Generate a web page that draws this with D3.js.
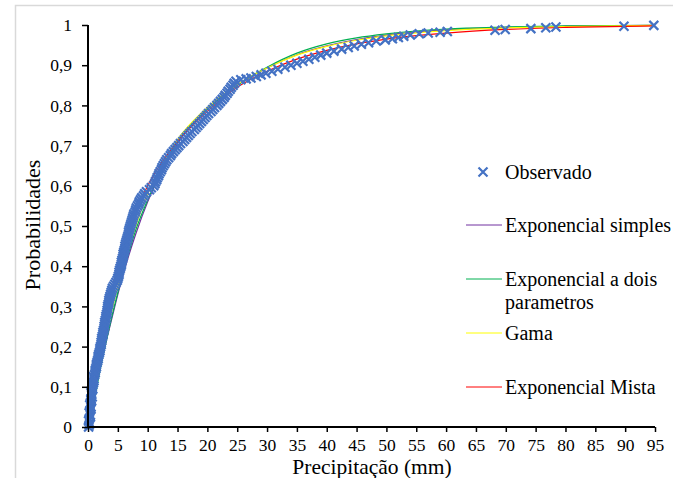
<!DOCTYPE html>
<html>
<head>
<meta charset="utf-8">
<style>
  body { margin: 0; background: #fff; }
</style>
<script src="https://cdn.jsdelivr.net/npm/d3@7"></script>
</head>
<body>
<svg width="673" height="478"></svg>
<script>
// observed precipitation (mm) and empirical probability
var obsPrecip = [0.1, 0.3, 0.2, 0.4, 0.3, 0.5, 0.4, 0.5, 0.6, 0.6,
  0.7, 0.9, 1.0, 1.1, 1.2, 1.4, 1.5, 1.7, 1.8, 2.0,
  2.1, 2.2, 2.3, 2.5, 2.6, 2.7, 2.8, 3.0, 3.1, 3.2,
  3.3, 3.5, 3.6, 3.8, 4.0, 4.3, 4.7, 5.0, 5.2, 5.3,
  5.5, 5.6, 5.8, 5.9, 6.1, 6.2, 6.4, 6.6, 6.8, 6.9,
  7.1, 7.3, 7.5, 7.7, 8.0, 8.3, 8.6, 9.0, 9.5, 10.3,
  11.0, 11.3, 11.6, 11.9, 12.3, 12.6, 13.0, 13.5, 14.0, 14.6,
  15.2, 15.9, 16.5, 17.1, 17.8, 18.4, 19.0, 19.6, 20.2, 20.9,
  21.6, 22.2, 22.8, 23.3, 23.8, 24.3, 24.8,
  25.6, 26.5, 27.3, 28.2, 29.0, 29.8, 30.8, 31.8, 33.0, 34.0,
  35.0, 36.0, 37.0, 38.0, 39.0, 40.0, 41.2, 42.5, 43.6, 44.6,
  45.8, 47.0, 48.3, 49.8, 51.0, 52.0, 52.9, 54.0, 55.5, 57.0,
  59.0, 60.2, 68.2, 69.9, 74.2, 76.7, 78.4, 89.8, 94.8,
  0.2, 0.1, 0.4, 0.2, 0.5, 0.3, 0.6, 0.7, 0.5, 0.8,
  0.8, 1.0, 0.9, 1.2, 1.3, 1.4, 1.6, 1.7, 1.9, 2.0,
  2.2, 2.3, 2.4, 2.5, 2.7, 2.8, 2.9, 3.0, 3.2, 3.3,
  3.4, 3.5, 3.7, 3.9, 4.1, 4.5, 4.9, 5.1, 5.2, 5.4,
  5.6, 5.7, 5.9, 6.0, 6.2, 6.3, 6.5, 6.7, 6.8, 7.0,
  7.2, 7.4, 7.6, 7.9, 8.1, 8.5, 8.8, 9.3, 9.8, 10.6,
  11.2, 11.5, 11.8, 12.1, 12.4, 12.8, 13.2, 13.8, 14.3, 14.9,
  15.5, 16.2, 16.8, 17.4, 18.1, 18.7, 19.3, 19.9, 20.6, 21.2,
  21.9, 22.5, 23.0, 23.5, 24.0, 24.5];
var obsProb = [0.00, 0.01, 0.02, 0.03, 0.04, 0.05, 0.06, 0.07, 0.08, 0.09,
  0.10, 0.11, 0.12, 0.13, 0.14, 0.15, 0.16, 0.17, 0.18, 0.19,
  0.20, 0.21, 0.22, 0.23, 0.24, 0.25, 0.26, 0.27, 0.28, 0.29,
  0.30, 0.31, 0.32, 0.33, 0.34, 0.35, 0.36, 0.37, 0.38, 0.39,
  0.40, 0.41, 0.42, 0.43, 0.44, 0.45, 0.46, 0.47, 0.48, 0.49,
  0.50, 0.51, 0.52, 0.53, 0.54, 0.55, 0.56, 0.57, 0.58, 0.59,
  0.60, 0.61, 0.62, 0.63, 0.64, 0.65, 0.66, 0.67, 0.68, 0.69,
  0.70, 0.71, 0.72, 0.73, 0.74, 0.75, 0.76, 0.77, 0.78, 0.79,
  0.80, 0.81, 0.82, 0.83, 0.84, 0.85, 0.86,
  0.864, 0.866, 0.868, 0.872, 0.876, 0.880, 0.885, 0.890, 0.895, 0.900,
  0.905, 0.910, 0.915, 0.920, 0.925, 0.930, 0.935, 0.940, 0.944, 0.948,
  0.952, 0.956, 0.960, 0.963, 0.966, 0.969, 0.972, 0.975, 0.978, 0.980,
  0.982, 0.984, 0.987, 0.989, 0.991, 0.993, 0.995, 0.997, 0.999,
  0.005, 0.015, 0.025, 0.035, 0.045, 0.055, 0.065, 0.075, 0.085, 0.095,
  0.105, 0.115, 0.125, 0.135, 0.145, 0.155, 0.165, 0.175, 0.185, 0.195,
  0.205, 0.215, 0.225, 0.235, 0.245, 0.255, 0.265, 0.275, 0.285, 0.295,
  0.305, 0.315, 0.325, 0.335, 0.345, 0.355, 0.365, 0.375, 0.385, 0.395,
  0.405, 0.415, 0.425, 0.435, 0.445, 0.455, 0.465, 0.475, 0.485, 0.495,
  0.505, 0.515, 0.525, 0.535, 0.545, 0.555, 0.565, 0.575, 0.585, 0.595,
  0.605, 0.615, 0.625, 0.635, 0.645, 0.655, 0.665, 0.675, 0.685, 0.695,
  0.705, 0.715, 0.725, 0.735, 0.745, 0.755, 0.765, 0.775, 0.785, 0.795,
  0.805, 0.815, 0.825, 0.835, 0.845, 0.855];

// fitted distributions, read at these precipitation values
var fitPrecip = [0, 1, 2, 3, 4, 5, 6, 8, 10, 12, 15, 20, 25, 30, 35, 40, 45, 50, 60, 70, 80, 95];
var expSimples = [0, 0.075, 0.145, 0.21, 0.27, 0.33, 0.385, 0.48, 0.56, 0.625, 0.705, 0.79, 0.85, 0.893, 0.926, 0.948, 0.964, 0.975, 0.988, 0.994, 0.997, 0.999];
var expDois = [0, 0.06, 0.14, 0.21, 0.275, 0.335, 0.39, 0.49, 0.565, 0.63, 0.71, 0.79, 0.85, 0.895, 0.93, 0.953, 0.968, 0.978, 0.99, 0.995, 0.998, 0.999];
var gama = [0, 0.085, 0.16, 0.225, 0.29, 0.35, 0.405, 0.5, 0.58, 0.64, 0.715, 0.795, 0.852, 0.893, 0.925, 0.947, 0.962, 0.973, 0.986, 0.993, 0.996, 0.999];
var expMista = [0, 0.1, 0.19, 0.27, 0.34, 0.4, 0.45, 0.535, 0.6, 0.65, 0.71, 0.785, 0.845, 0.885, 0.915, 0.937, 0.953, 0.965, 0.98, 0.989, 0.994, 0.998];

var xTicks = d3.range(0, 100, 5);
var yTicks = d3.range(0, 11).map(function (i) { return i / 10; });

var serif = "'Liberation Serif', 'Times New Roman', Times, 'DejaVu Serif', serif";

var svg = d3.select("svg");

// chart frame
svg.append("rect")
  .attr("x", 15.5).attr("y", 5.5)
  .attr("width", 700).attr("height", 500)
  .attr("fill", "none")
  .attr("stroke", "#d9d9d9")
  .attr("stroke-width", 1.5);

var x = d3.scaleLinear().domain([0, 95]).range([88, 655]);
var y = d3.scaleLinear().domain([0, 1]).range([427, 25]);

function probLabel(v) {
  if (v === 0 || v === 1) return String(v);
  return v.toFixed(1).replace(".", ",");
}

// fitted curves
var series = [
  { name: "Exponencial simples", values: expSimples, color: "#7030a0" },
  { name: "Exponencial a dois parametros", values: expDois, color: "#00b050" },
  { name: "Gama", values: gama, color: "#ffff00" },
  { name: "Exponencial Mista", values: expMista, color: "#ff0000" }
];

var line = d3.line()
  .x(function (d) { return x(d[0]); })
  .y(function (d) { return y(d[1]); })
  .curve(d3.curveMonotoneX);

svg.append("g").selectAll("path")
  .data(series)
  .enter().append("path")
  .attr("d", function (s) { return line(fitPrecip.map(function (p, i) { return [p, s.values[i]]; })); })
  .attr("fill", "none")
  .attr("stroke", function (s) { return s.color; })
  .attr("stroke-width", 1.2);

// observed points as crosses
var cross = "M-4.5,-4.5L4.5,4.5M-4.5,4.5L4.5,-4.5";
svg.append("g").selectAll("path")
  .data(obsPrecip)
  .enter().append("path")
  .attr("transform", function (d, i) { return "translate(" + x(d) + "," + y(obsProb[i]) + ")"; })
  .attr("d", cross)
  .attr("stroke", "#4472c4")
  .attr("stroke-width", 2.2)
  .attr("fill", "none");

// axes
var xAxis = svg.append("g")
  .attr("transform", "translate(0," + y(0) + ")")
  .call(d3.axisBottom(x).tickValues(xTicks).tickSize(5).tickPadding(7).tickFormat(d3.format("d")));
var yAxis = svg.append("g")
  .attr("transform", "translate(" + x(0) + ",0)")
  .call(d3.axisLeft(y).tickValues(yTicks).tickSize(6).tickPadding(10).tickFormat(probLabel));

[xAxis, yAxis].forEach(function (a) {
  a.attr("font-family", serif).attr("font-size", 17.5);
  a.select(".domain").attr("stroke", "#000").attr("stroke-width", 2);
  a.selectAll(".tick line").attr("stroke", "#000").attr("stroke-width", 1.5);
  a.selectAll(".tick text").style("font-family", serif).style("font-size", "17.5px").attr("fill", "#000");
});
xAxis.select(".domain").attr("d", "M" + x(0) + ",0H" + x(95));
yAxis.select(".domain").attr("d", "M0," + y(0) + "V" + y(1));

// axis titles
svg.append("text")
  .attr("x", 372).attr("y", 474)
  .attr("text-anchor", "middle")
  .style("font-family", serif).style("font-size", "21.5px")
  .text("Precipitação (mm)");
svg.append("text")
  .attr("transform", "translate(40,225) rotate(-90)")
  .attr("text-anchor", "middle")
  .style("font-family", serif).style("font-size", "22px")
  .text("Probabilidades");

// legend
var legend = svg.append("g");
legend.append("path")
  .attr("transform", "translate(483,172)")
  .attr("d", cross)
  .attr("stroke", "#4472c4").attr("stroke-width", 2.2).attr("fill", "none");
legend.append("text").attr("x", 505).attr("y", 179)
  .style("font-family", serif).style("font-size", "20px")
  .text("Observado");

var legendItems = [
  { label: ["Exponencial simples"], color: "#7030a0", ly: 225 },
  { label: ["Exponencial a dois", "parametros"], color: "#00b050", ly: 279 },
  { label: ["Gama"], color: "#ffff00", ly: 333 },
  { label: ["Exponencial Mista"], color: "#ff0000", ly: 387 }
];
legendItems.forEach(function (it) {
  legend.append("line")
    .attr("x1", 466).attr("x2", 502)
    .attr("y1", it.ly).attr("y2", it.ly)
    .attr("stroke", it.color).attr("stroke-width", 1);
  it.label.forEach(function (t, j) {
    legend.append("text")
      .attr("x", 505).attr("y", it.ly + 7 + j * 23)
      .style("font-family", serif).style("font-size", "20px")
      .text(t);
  });
});
</script>
</body>
</html>
